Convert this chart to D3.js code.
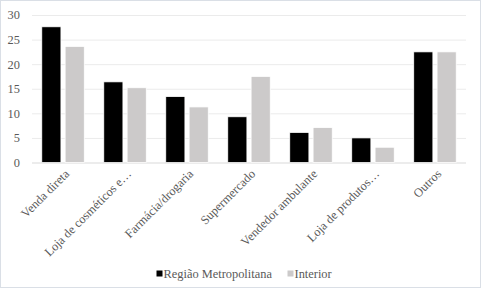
<!DOCTYPE html>
<html>
<head>
<meta charset="utf-8">
<script src="https://cdn.jsdelivr.net/npm/d3@7"></script>
<style>
  body { margin: 0; background: #fff; }
  svg { display: block; font-family: "Liberation Serif", "Times New Roman", serif; }
</style>
</head>
<body>
<svg id="chart"></svg>
<script>
// dados do gráfico
const categorias = ['Venda direta', 'Loja de cosméticos e…', 'Farmácia/drogaria', 'Supermercado', 'Vendedor ambulante', 'Loja de produtos…', 'Outros'];
const regiaoMetropolitana = [27.6, 16.4, 13.4, 9.3, 6.1, 5.0, 22.5];
const interior = [23.6, 15.2, 11.3, 17.5, 7.1, 3.1, 22.5];
const series = ['Região Metropolitana', 'Interior'];
const cores = ['#000000', '#cccaca'];
const yTicks = [0, 5, 10, 15, 20, 25, 30];

const width = 481, height = 289;
const margin = {top: 15, right: 15, bottom: 126.5, left: 32};
const fonte = '12.4px';

const svg = d3.select('#chart').attr('width', width).attr('height', height);

// moldura
svg.append('rect')
    .attr('x', 0.5).attr('y', 0.5)
    .attr('width', width - 1).attr('height', height - 2)
    .attr('fill', '#fff')
    .attr('stroke', '#dadfe6');

const innerW = width - margin.left - margin.right;
const innerH = height - margin.top - margin.bottom;

const g = svg.append('g').attr('transform', `translate(${margin.left},${margin.top})`);

const x0 = d3.scaleBand().domain(categorias).range([0, innerW]).paddingInner(0.315).paddingOuter(0.158);
const x1 = d3.scaleBand().domain(series).range([0, x0.bandwidth()]).paddingInner(0.18);
const y = d3.scaleLinear().domain([0, 30]).range([innerH, 0]);

// linhas de grade
g.selectAll('.grid')
    .data(yTicks)
    .join('line')
    .attr('x1', 0).attr('x2', innerW)
    .attr('y1', d => y(d) + 0.5).attr('y2', d => y(d) + 0.5)
    .attr('stroke', d => d === 0 ? '#d9d9d9' : '#ebebeb')
    .attr('stroke-width', 1);

// eixo y
const yAxis = d3.axisLeft(y).tickValues(yTicks).tickSize(0).tickPadding(12);
g.append('g').call(yAxis)
    .call(s => s.select('.domain').remove())
    .selectAll('text')
    .attr('fill', '#595959')
    .style('font-size', fonte)
    .style('font-family', '"Liberation Serif", serif');

// barras
const dados = categorias.map((c, i) => ({cat: c, vals: [regiaoMetropolitana[i], interior[i]]}));

const grupos = g.selectAll('.grupo')
    .data(dados)
    .join('g')
    .attr('transform', d => `translate(${x0(d.cat)},0)`);

grupos.selectAll('rect')
    .data(d => d.vals.map((v, j) => ({serie: series[j], v, j})))
    .join('rect')
    .attr('x', d => x1(d.serie))
    .attr('y', d => y(d.v))
    .attr('width', x1.bandwidth())
    .attr('height', d => innerH - y(d.v))
    .attr('fill', d => cores[d.j])
    .attr('stroke', '#fff')
    .attr('stroke-width', 0.75);

// rótulos das categorias
g.selectAll('.rotulo')
    .data(categorias)
    .join('text')
    .attr('transform', d => `translate(${x0(d) + x0.bandwidth() / 2 + 4},${innerH + 9}) rotate(-45)`)
    .attr('text-anchor', 'end')
    .attr('dy', '0.35em')
    .attr('fill', '#595959')
    .style('font-size', fonte)
    .text(d => d);

// legenda
const legenda = svg.append('g').attr('transform', 'translate(0,274)');
const legX = [156.5, 287.5];
series.forEach((s, i) => {
    legenda.append('rect')
        .attr('x', legX[i]).attr('y', -3.5)
        .attr('width', 6).attr('height', 6)
        .attr('fill', cores[i]);
    legenda.append('text')
        .attr('x', legX[i] + 7).attr('y', 0)
        .attr('dy', '0.35em')
        .attr('fill', '#595959')
        .style('font-size', fonte)
        .text(s);
});
</script>
</body>
</html>
